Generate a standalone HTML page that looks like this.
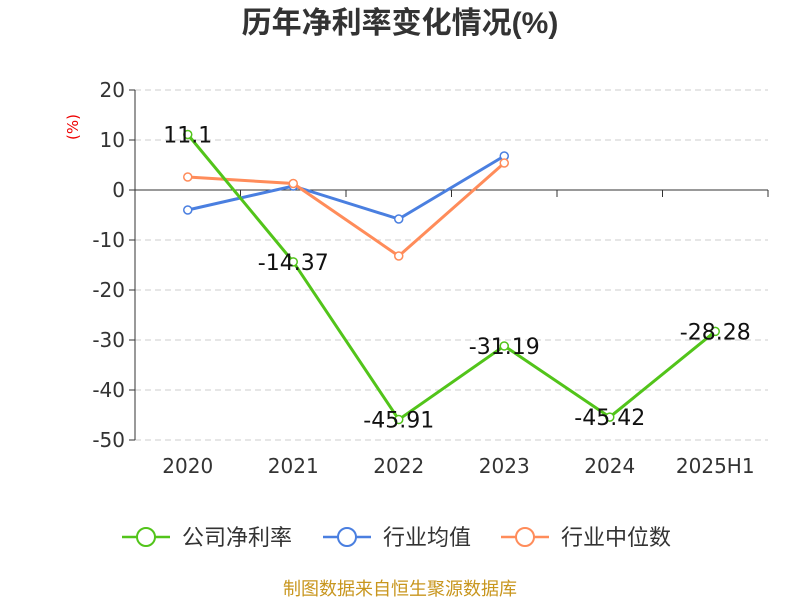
<!DOCTYPE html>
<html><head><meta charset="utf-8"><style>
body{margin:0;background:#fff;font-family:"DejaVu Sans","Noto Sans CJK SC",sans-serif}
</style></head><body>
<svg id="c" width="800" height="600" xmlns="http://www.w3.org/2000/svg" font-family="DejaVu Sans,Noto Sans CJK SC,sans-serif">
<text x="400" y="33" text-anchor="middle" font-size="30" font-weight="bold" fill="#333" font-family="Liberation Sans,Noto Sans CJK SC,sans-serif">历年净利率变化情况(%)</text>
<text x="78" y="127" transform="rotate(-90 78 127)" text-anchor="middle" font-size="15" fill="#e00">(%)</text>
<g id="grid"></g><g id="axes"></g><g id="series"></g>
<g font-size="22" fill="#333" font-family="Liberation Sans,Noto Sans CJK SC,sans-serif">
<g><line x1="122" y1="537" x2="170" y2="537" stroke="#52c41a" stroke-width="2.5"/><circle cx="146" cy="537" r="9" fill="#fff" stroke="#52c41a" stroke-width="2"/><text x="182" y="545">公司净利率</text></g>
<g><line x1="323" y1="537" x2="371" y2="537" stroke="#4a7fe0" stroke-width="2.5"/><circle cx="347" cy="537" r="9" fill="#fff" stroke="#4a7fe0" stroke-width="2"/><text x="383" y="545">行业均值</text></g>
<g><line x1="501" y1="537" x2="549" y2="537" stroke="#ff8c5a" stroke-width="2.5"/><circle cx="525" cy="537" r="9" fill="#fff" stroke="#ff8c5a" stroke-width="2"/><text x="561" y="545">行业中位数</text></g>
</g>
<text x="400" y="595" text-anchor="middle" font-size="18" fill="#c8961e" font-family="Liberation Sans,Noto Sans CJK SC,sans-serif">制图数据来自恒生聚源数据库</text>
</svg>
<script>
const categories=["2020","2021","2022","2023","2024","2025H1"];
const company=[11.1,-14.37,-45.91,-31.19,-45.42,-28.28];
const industryMean=[-4,0.8,-5.8,6.8];
const industryMedian=[2.6,1.3,-13.2,5.4];
const yTicks=[20,10,0,-10,-20,-30,-40,-50];
const NS="http://www.w3.org/2000/svg";
const x0=135,x1=768,bw=(x1-x0)/categories.length;
const X=i=>x0+bw*(i+0.5);
const Y=v=>190-v*5;
function mk(t,a,p){const e=document.createElementNS(NS,t);for(const k in a)e.setAttribute(k,a[k]);(p||document.getElementById('c')).appendChild(e);return e;}
const grid=document.getElementById('grid'),axes=document.getElementById('axes'),ser=document.getElementById('series');
yTicks.forEach(v=>{
 if(v!==0){const g=mk('line',{x1:x0,x2:x1,y1:Y(v),y2:Y(v),stroke:'#ccc','stroke-dasharray':'6,4'},grid);
 
 }
 const tk=mk('line',{x1:x0-6,x2:x0,y1:Y(v),y2:Y(v),stroke:'#333'},axes);
 
 
 const t=mk('text',{x:x0-10,y:Y(v)+7,'text-anchor':'end','font-size':20,fill:'#333'},axes);t.textContent=v;
 
 
});
const ya=mk('line',{x1:x0,x2:x0,y1:Y(20),y2:Y(-50),stroke:'#333'},axes);


const xa=mk('line',{x1:x0,x2:x1,y1:Y(0),y2:Y(0),stroke:'#333'},axes);


for(let i=0;i<=categories.length;i++){const t=mk('line',{x1:x0+bw*i,x2:x0+bw*i,y1:Y(0),y2:Y(0)+7,stroke:'#333'},axes);
 
 }
categories.forEach((c,i)=>{const t=mk('text',{x:X(i),y:473,'text-anchor':'middle','font-size':20,fill:'#333'},axes);t.textContent=c;
 
 });
function series(d,col,name,labels){
 const p=mk('polyline',{points:d.map((v,i)=>X(i)+','+Y(v)).join(' '),fill:'none',stroke:col,'stroke-width':3},ser);
 
 
 d.forEach((v,i)=>{const c=mk('circle',{cx:X(i),cy:Y(v),r:4,fill:'#fff',stroke:col,'stroke-width':1.5},ser);
  
  
  if(labels){const t=mk('text',{x:X(i),y:Y(v)+8,'text-anchor':'middle','font-size':22,fill:'#111'},ser);t.textContent=v;
  
  }});
}
series(industryMean,'#4a7fe0','industry-mean',false);
series(industryMedian,'#ff8c5a','industry-median',false);
series(company,'#52c41a','company',true);
</script>
</body></html>
